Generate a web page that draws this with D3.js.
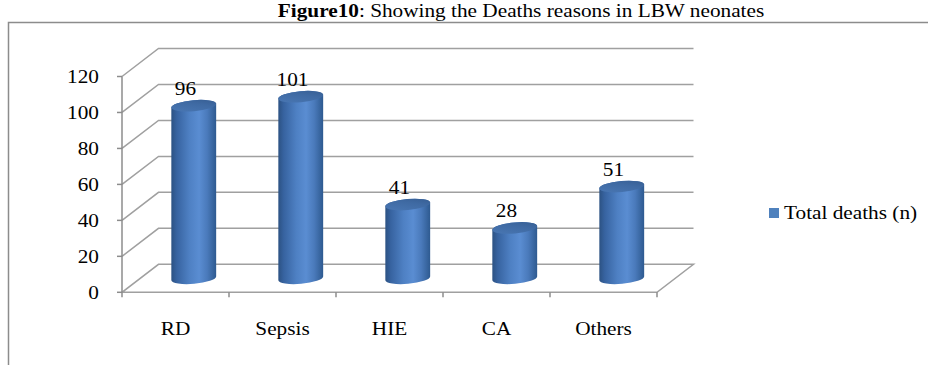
<!DOCTYPE html>
<html>
<head>
<meta charset="utf-8">
<script src="https://cdn.jsdelivr.net/npm/d3@7"></script>
<style>
  html, body { margin: 0; padding: 0; background: #fff; }
  svg { display: block; }
  text { font-family: "Liberation Serif", "Times New Roman", serif; fill: #000; }
</style>
</head>
<body>
<svg id="chart" width="928" height="365"></svg>
<script>
// Causes of death among LBW neonates
const categories = ["RD", "Sepsis", "HIE", "CA", "Others"];
const totalDeaths = [96, 101, 41, 28, 51];
const yTicks = [0, 20, 40, 60, 80, 100, 120];
const seriesName = "Total deaths (n)";

const svg = d3.select("#chart");
const W = 928, H = 365;

// plot geometry (front plane + receding depth)
const x0 = 122, x1 = 657;
const yBottom = 292.3, yTop = 76.5;
const depth = { dx: 36.5, dy: -28 };
const FS = 19, SX = 1.12;   // font size and horizontal stretch

const x = d3.scaleBand().domain(categories).range([x0, x1]);
const y = d3.scaleLinear().domain([0, 120]).range([yBottom, yTop]);

function label(g, px, py, str, anchor, weight) {
  return g.append("text")
    .attr("transform", `translate(${px},${py}) scale(${SX},1)`)
    .attr("text-anchor", anchor || "middle")
    .attr("font-size", FS)
    .attr("font-weight", weight || "normal")
    .text(str);
}

// title
const title = svg.append("text")
  .attr("transform", `translate(521,17) scale(${SX},1)`)
  .attr("text-anchor", "middle")
  .attr("font-size", FS);
title.append("tspan").attr("font-weight", "bold").text("Figure10");
title.append("tspan").text(": Showing the Deaths reasons in LBW neonates");

// outer frame
svg.append("path")
  .attr("d", `M${W + 5},22.5 L8.5,22.5 L8.5,${H + 5}`)
  .attr("fill", "none")
  .attr("stroke", "#8c8c8c")
  .attr("stroke-width", 1.5);

const grid = svg.append("g")
  .attr("fill", "none")
  .attr("stroke", "#a0a0a0")
  .attr("stroke-width", 1.5);

// side wall diagonals and back wall gridlines
yTicks.forEach(t => {
  const yy = y(t);
  if (t === 0) {
    grid.append("path").attr("d",
      `M${x0},${yy} L${x1},${yy} L${x1 + depth.dx},${yy + depth.dy} L${x0 + depth.dx},${yy + depth.dy} Z`);
  } else {
    grid.append("path").attr("d",
      `M${x0},${yy} L${x0 + depth.dx},${yy + depth.dy} L${x1 + depth.dx},${yy + depth.dy}`);
  }
});

// value axis with ticks and labels
const axisG = svg.append("g");
axisG.append("line")
  .attr("x1", x0).attr("x2", x0).attr("y1", y(120)).attr("y2", y(0))
  .attr("stroke", "#8c8c8c").attr("stroke-width", 1.5);
yTicks.forEach(t => {
  axisG.append("line")
    .attr("x1", x0 - 5).attr("x2", x0).attr("y1", y(t)).attr("y2", y(t))
    .attr("stroke", "#8c8c8c").attr("stroke-width", 1.5);
  label(axisG, 99, y(t) + 6.5, String(t), "end");
});

// category axis ticks at band boundaries
const bounds = categories.map(c => x(c)).concat([x1]);
bounds.forEach(b => {
  axisG.append("line")
    .attr("x1", b).attr("x2", b).attr("y1", y(0)).attr("y2", y(0) + 5)
    .attr("stroke", "#8c8c8c").attr("stroke-width", 1.5);
});
categories.forEach(c => {
  label(axisG, x(c) + x.bandwidth() / 2, 335, c, "middle");
});

// gradients for cylinders
const defs = svg.append("defs");
const sideGrad = defs.append("linearGradient").attr("id", "cylSide")
  .attr("x1", "0%").attr("x2", "100%").attr("y1", "0%").attr("y2", "0%");
[["0%", "#2c5283"], ["12%", "#3763a0"], ["40%", "#4e80c3"], ["62%", "#5a8dd2"],
 ["80%", "#4a7abb"], ["100%", "#2e5a90"]].forEach(([o, c]) =>
  sideGrad.append("stop").attr("offset", o).attr("stop-color", c));
const capGrad = defs.append("linearGradient").attr("id", "cylTop")
  .attr("x1", "0%").attr("x2", "100%").attr("y1", "100%").attr("y2", "0%");
[["0%", "#4a78b5"], ["60%", "#3f6aa3"], ["100%", "#355c90"]].forEach(([o, c]) =>
  capGrad.append("stop").attr("offset", o).attr("stop-color", c));

// cylinders
const rx = 22.5, ry = 5.5, rot = -5;
const cosR = Math.cos(rot * Math.PI / 180), sinR = Math.sin(rot * Math.PI / 180);
const bars = svg.append("g");
categories.forEach((c, i) => {
  const v = totalDeaths[i];
  const cx = x(c) + x.bandwidth() / 2 + depth.dx / 2;
  const cyB = y(0) + depth.dy / 2;
  const cyT = y(v) + depth.dy / 2;
  const ox = rx * cosR, oy = rx * sinR;
  bars.append("path")
    .attr("d",
      `M${cx - ox},${cyB - oy} L${cx - ox},${cyT - oy} ` +
      `A${rx},${ry} ${rot} 0 1 ${cx + ox},${cyT + oy} ` +
      `L${cx + ox},${cyB + oy} ` +
      `A${rx},${ry} ${rot} 0 1 ${cx - ox},${cyB - oy} Z`)
    .attr("fill", "url(#cylSide)");
  bars.append("ellipse")
    .attr("cx", 0).attr("cy", 0).attr("rx", rx).attr("ry", ry)
    .attr("transform", `translate(${cx},${cyT}) rotate(${rot})`)
    .attr("fill", "url(#cylTop)");
  label(bars, x(c) + x.bandwidth() / 2 + 10, cyT - 11, String(v), "middle");
});

// legend
const legend = svg.append("g");
legend.append("rect")
  .attr("x", 769).attr("y", 208).attr("width", 10).attr("height", 10)
  .attr("fill", "#4f81bd");
label(legend, 784, 219, seriesName, "start");
</script>
</body>
</html>
